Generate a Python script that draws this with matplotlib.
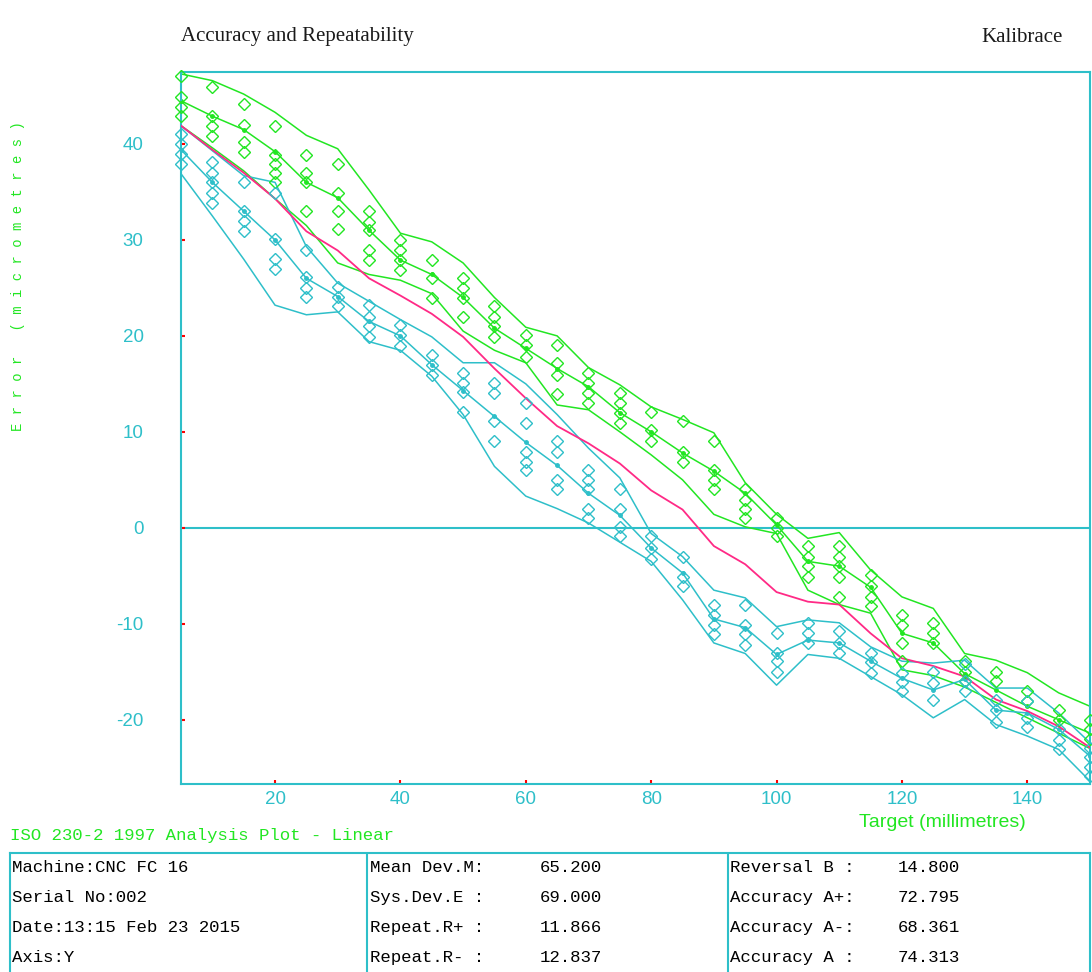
import matplotlib
matplotlib.use("Agg")
import matplotlib.pyplot as plt


# =========================
# DATA
# =========================
TARGETS = list(range(5, 155, 5))

# individual readings, positive approach (green diamonds)
POS_RUNS = [
    [47.1, 44.9, 43.9, 42.9], [45.9, 42.9, 41.9, 40.8], [44.2, 42.0, 40.2, 39.2],
    [41.9, 38.9, 37.9, 37.0, 36.0], [38.9, 37.0, 36.0, 33.0], [37.9, 34.9, 33.0, 31.1],
    [33.0, 31.9, 31.0, 29.0, 27.9], [30.0, 29.0, 27.9, 26.9], [27.9, 26.0, 23.9],
    [26.0, 25.0, 23.9, 22.0], [23.1, 22.0, 21.0, 19.9], [20.1, 19.1, 17.8],
    [19.0, 17.2, 15.9, 13.9], [16.1, 15.1, 14.0, 13.0], [14.0, 13.0, 12.0, 10.9],
    [12.1, 10.2, 9.0], [11.1, 7.9, 6.9], [9.0, 6.0, 5.0, 4.0],
    [4.0, 2.9, 2.0, 1.0], [1.0, 0.0, -0.9], [-1.9, -3.0, -4.0, -5.1],
    [-1.9, -3.0, -4.0, -5.1, -7.2], [-4.9, -6.1, -7.2, -8.1], [-9.1, -10.1, -12.0, -13.9],
    [-9.9, -11.0, -12.0], [-13.9, -15.0, -16.0], [-15.0, -16.0],
    [-17.0, -18.0], [-19.0, -20.0], [-20.0, -21.0, -22.0],
]

# individual readings, negative approach (cyan diamonds)
NEG_RUNS = [
    [41.0, 40.0, 39.0, 37.9], [38.1, 37.0, 36.0, 34.9, 33.9], [36.0, 33.0, 32.0, 30.9],
    [34.9, 30.1, 28.0, 27.0], [29.0, 26.1, 25.0, 24.0], [25.1, 24.1, 23.1],
    [23.2, 22.0, 21.0, 19.9], [21.1, 20.1, 18.9], [18.0, 17.0, 15.9],
    [16.1, 15.1, 14.1, 12.1], [15.1, 14.0, 11.1, 9.0], [13.0, 10.9, 7.9, 6.9, 6.0],
    [9.0, 7.9, 5.0, 4.0], [6.0, 5.0, 4.0, 2.0, 1.0], [4.0, 2.0, 0.1, -0.9],
    [-0.9, -2.1, -3.2], [-3.0, -5.1, -6.1], [-8.0, -9.1, -10.1, -11.1],
    [-8.0, -10.1, -11.1, -12.2], [-11.0, -13.0, -13.9, -15.0], [-9.9, -11.0, -12.0],
    [-10.8, -12.0, -13.1], [-13.1, -14.0, -15.1], [-15.1, -16.1, -17.0],
    [-15.0, -16.2, -17.9], [-14.2, -16.0, -17.0], [-17.9, -19.0, -20.2],
    [-18.0, -19.8, -20.8], [-21.0, -22.1, -23.1], [-22.9, -23.9, -24.9, -25.9],
]

POS_UPPER = [47.3, 46.6, 45.2, 43.3, 40.9, 39.5, 35.2, 30.7, 29.8, 27.6,
             24.0, 20.9, 20.0, 16.7, 14.9, 12.6, 11.3, 9.9, 4.7, 1.4,
             -1.1, -0.5, -4.4, -7.2, -8.4, -13.1, -13.8, -15.1, -17.2, -18.6]
POS_MEAN = [44.5, 42.9, 41.5, 39.2, 36.0, 34.4, 31.0, 27.9, 26.4, 24.0,
            20.8, 18.7, 16.6, 14.7, 12.0, 10.0, 7.8, 5.9, 3.6, 0.3,
            -3.5, -4.0, -6.2, -11.0, -12.0, -15.2, -16.9, -18.6, -20.0, -21.4]
POS_LOWER = [41.9, 39.6, 37.2, 34.3, 31.5, 27.6, 26.4, 25.8, 24.4, 20.5,
             18.5, 17.2, 12.8, 12.3, 10.0, 7.6, 5.0, 1.4, 0.1, -0.6,
             -6.5, -8.0, -8.9, -14.8, -15.4, -16.6, -18.2, -19.8, -21.4, -23.0]

NEG_UPPER = [41.9, 39.3, 36.7, 36.0, 29.3, 25.5, 23.6, 21.7, 19.9, 17.2,
             17.2, 15.0, 11.8, 8.3, 5.2, -0.6, -3.0, -6.5, -7.3, -10.3,
             -9.6, -9.9, -12.4, -13.9, -14.1, -13.8, -16.7, -16.7, -19.3, -22.4]
NEG_MEAN = [39.4, 36.0, 33.0, 30.0, 26.0, 24.1, 21.5, 20.0, 17.0, 14.3,
            11.6, 8.9, 6.5, 3.6, 1.3, -2.1, -4.7, -9.5, -10.4, -13.2,
            -11.7, -12.0, -13.9, -15.7, -16.9, -15.8, -19.0, -19.3, -21.0, -23.8]
NEG_LOWER = [36.9, 32.5, 28.0, 23.2, 22.2, 22.5, 19.4, 18.5, 15.8, 11.8,
             6.4, 3.3, 2.0, 0.5, -1.5, -3.5, -7.5, -12.0, -13.1, -16.4,
             -13.2, -13.6, -15.5, -17.4, -19.8, -17.9, -20.5, -21.7, -23.1, -26.4]

BIDIR_MEAN = [41.9, 39.4, 37.0, 34.3, 30.9, 28.9, 26.0, 24.2, 22.3, 19.9,
              16.6, 13.5, 10.6, 8.8, 6.7, 3.9, 1.9, -1.9, -3.8, -6.7,
              -7.7, -8.0, -11.0, -13.6, -14.4, -15.5, -17.9, -19.1, -20.7, -22.9]

X_TICKS = [20, 40, 60, 80, 100, 120, 140]
Y_TICKS = [-20, -10, 0, 10, 20, 30, 40]

INFO_COL1 = ["Machine:CNC FC 16", "Serial No:002", "Date:13:15 Feb 23 2015", "Axis:Y"]
INFO_COL2_LABELS = ["Mean Dev.M:", "Sys.Dev.E :", "Repeat.R+ :", "Repeat.R- :"]
INFO_COL2_VALUES = ["65.200", "69.000", "11.866", "12.837"]
INFO_COL3_LABELS = ["Reversal B :", "Accuracy A+:", "Accuracy A-:", "Accuracy A :"]
INFO_COL3_VALUES = ["14.800", "72.795", "68.361", "74.313"]


# =========================
# STYLE
# =========================
GREEN = "#22e622"
CYAN = "#2ebfc9"
MAGENTA = "#ff2a86"
SANS = ["Liberation Sans", "DejaVu Sans"]
SERIF = ["Liberation Serif", "DejaVu Serif"]
MONO = ["Liberation Mono", "DejaVu Sans Mono"]

W, H = 1092, 972
plt.rcParams["font.family"] = SANS
plt.rcParams["axes.unicode_minus"] = False


def flatten(runs):
    xs, ys = [], []
    for t, vals in zip(TARGETS, runs):
        xs += [t] * len(vals)
        ys += vals
    return xs, ys


fig = plt.figure(figsize=(W / 100, H / 100), dpi=100)
ax = fig.add_axes([181 / W, 1 - 784 / H, (1090 - 181) / W, (784 - 72) / H])

ax.axhline(0, color=CYAN, lw=1.5, zorder=1)

# envelopes and mean lines
for ys in (POS_UPPER, POS_LOWER):
    ax.plot(TARGETS, ys, color=GREEN, lw=1.1, zorder=2)
ax.plot(TARGETS, POS_MEAN, color=GREEN, lw=1.1, marker="o", ms=2.5, zorder=2)

for ys in (NEG_UPPER, NEG_LOWER):
    ax.plot(TARGETS, ys, color=CYAN, lw=1.1, zorder=2)
ax.plot(TARGETS, NEG_MEAN, color=CYAN, lw=1.1, marker="o", ms=2.5, zorder=2)

ax.plot(TARGETS, BIDIR_MEAN, color=MAGENTA, lw=1.3, zorder=3)

# individual readings
px, py = flatten(POS_RUNS)
nx, ny = flatten(NEG_RUNS)
ax.plot(px, py, ls="none", marker="D", ms=6, mfc="none", mec=GREEN, mew=1.0,
        clip_on=False, zorder=4)
ax.plot(nx, ny, ls="none", marker="D", ms=6, mfc="none", mec=CYAN, mew=1.0,
        clip_on=False, zorder=4)

ax.set_xlim(5, 150)
ax.set_ylim(-26.7, 47.5)
ax.set_xticks(X_TICKS)
ax.set_yticks(Y_TICKS)

for sp in ax.spines.values():
    sp.set_color(CYAN)
    sp.set_linewidth(1.5)

ax.tick_params(direction="in", length=3, width=1.5, color="red",
               labelcolor=CYAN, labelsize=13.5)
ax.tick_params(axis="y", pad=27)
ax.tick_params(axis="x", pad=5)

# =========================
# Texts
# =========================
fig.text(181 / W, 1 - 37 / H, "Accuracy and Repeatability", family=SERIF,
         fontsize=15, color="#1a1a1a", ha="left", va="center")
fig.text(1063 / W, 1 - 37 / H, "Kalibrace", family=SERIF, fontsize=15,
         color="#1a1a1a", ha="right", va="center")

fig.text(18 / W, 1 - 276 / H, " ".join("Error (micrometres)"), rotation=90,
         family=MONO, fontsize=10, color=GREEN, ha="center", va="center")
fig.text(942 / W, 1 - 822 / H, "Target (millimetres)", fontsize=14,
         color=GREEN, ha="center", va="center")
fig.text(10 / W, 1 - 835 / H, "ISO 230-2 1997 Analysis Plot - Linear",
         family=MONO, fontsize=12.5, color=GREEN, ha="left", va="center")

# =========================
# Info table
# =========================
tab = fig.add_axes([10 / W, 0, (1090 - 10) / W, (H - 853) / H])
tab.set_xlim(10, 1090)
tab.set_ylim(H, 853)
tab.set_xticks([])
tab.set_yticks([])
tab.patch.set_alpha(0)
for name, sp in tab.spines.items():
    sp.set_color(CYAN)
    sp.set_linewidth(1.5)
    if name == "bottom":
        sp.set_visible(False)
tab.axvline(367, color=CYAN, lw=1.5)
tab.axvline(728, color=CYAN, lw=1.5)

row_y = [867, 897, 927, 957]
for i, y in enumerate(row_y):
    tab.text(12, y, INFO_COL1[i], family=MONO, fontsize=12.5, va="center")
    tab.text(370, y, INFO_COL2_LABELS[i], family=MONO, fontsize=12.5, va="center")
    tab.text(540, y, INFO_COL2_VALUES[i], family=MONO, fontsize=12.5, va="center")
    tab.text(730, y, INFO_COL3_LABELS[i], family=MONO, fontsize=12.5, va="center")
    tab.text(898, y, INFO_COL3_VALUES[i], family=MONO, fontsize=12.5, va="center")

fig.savefig("out.png", dpi=100)
